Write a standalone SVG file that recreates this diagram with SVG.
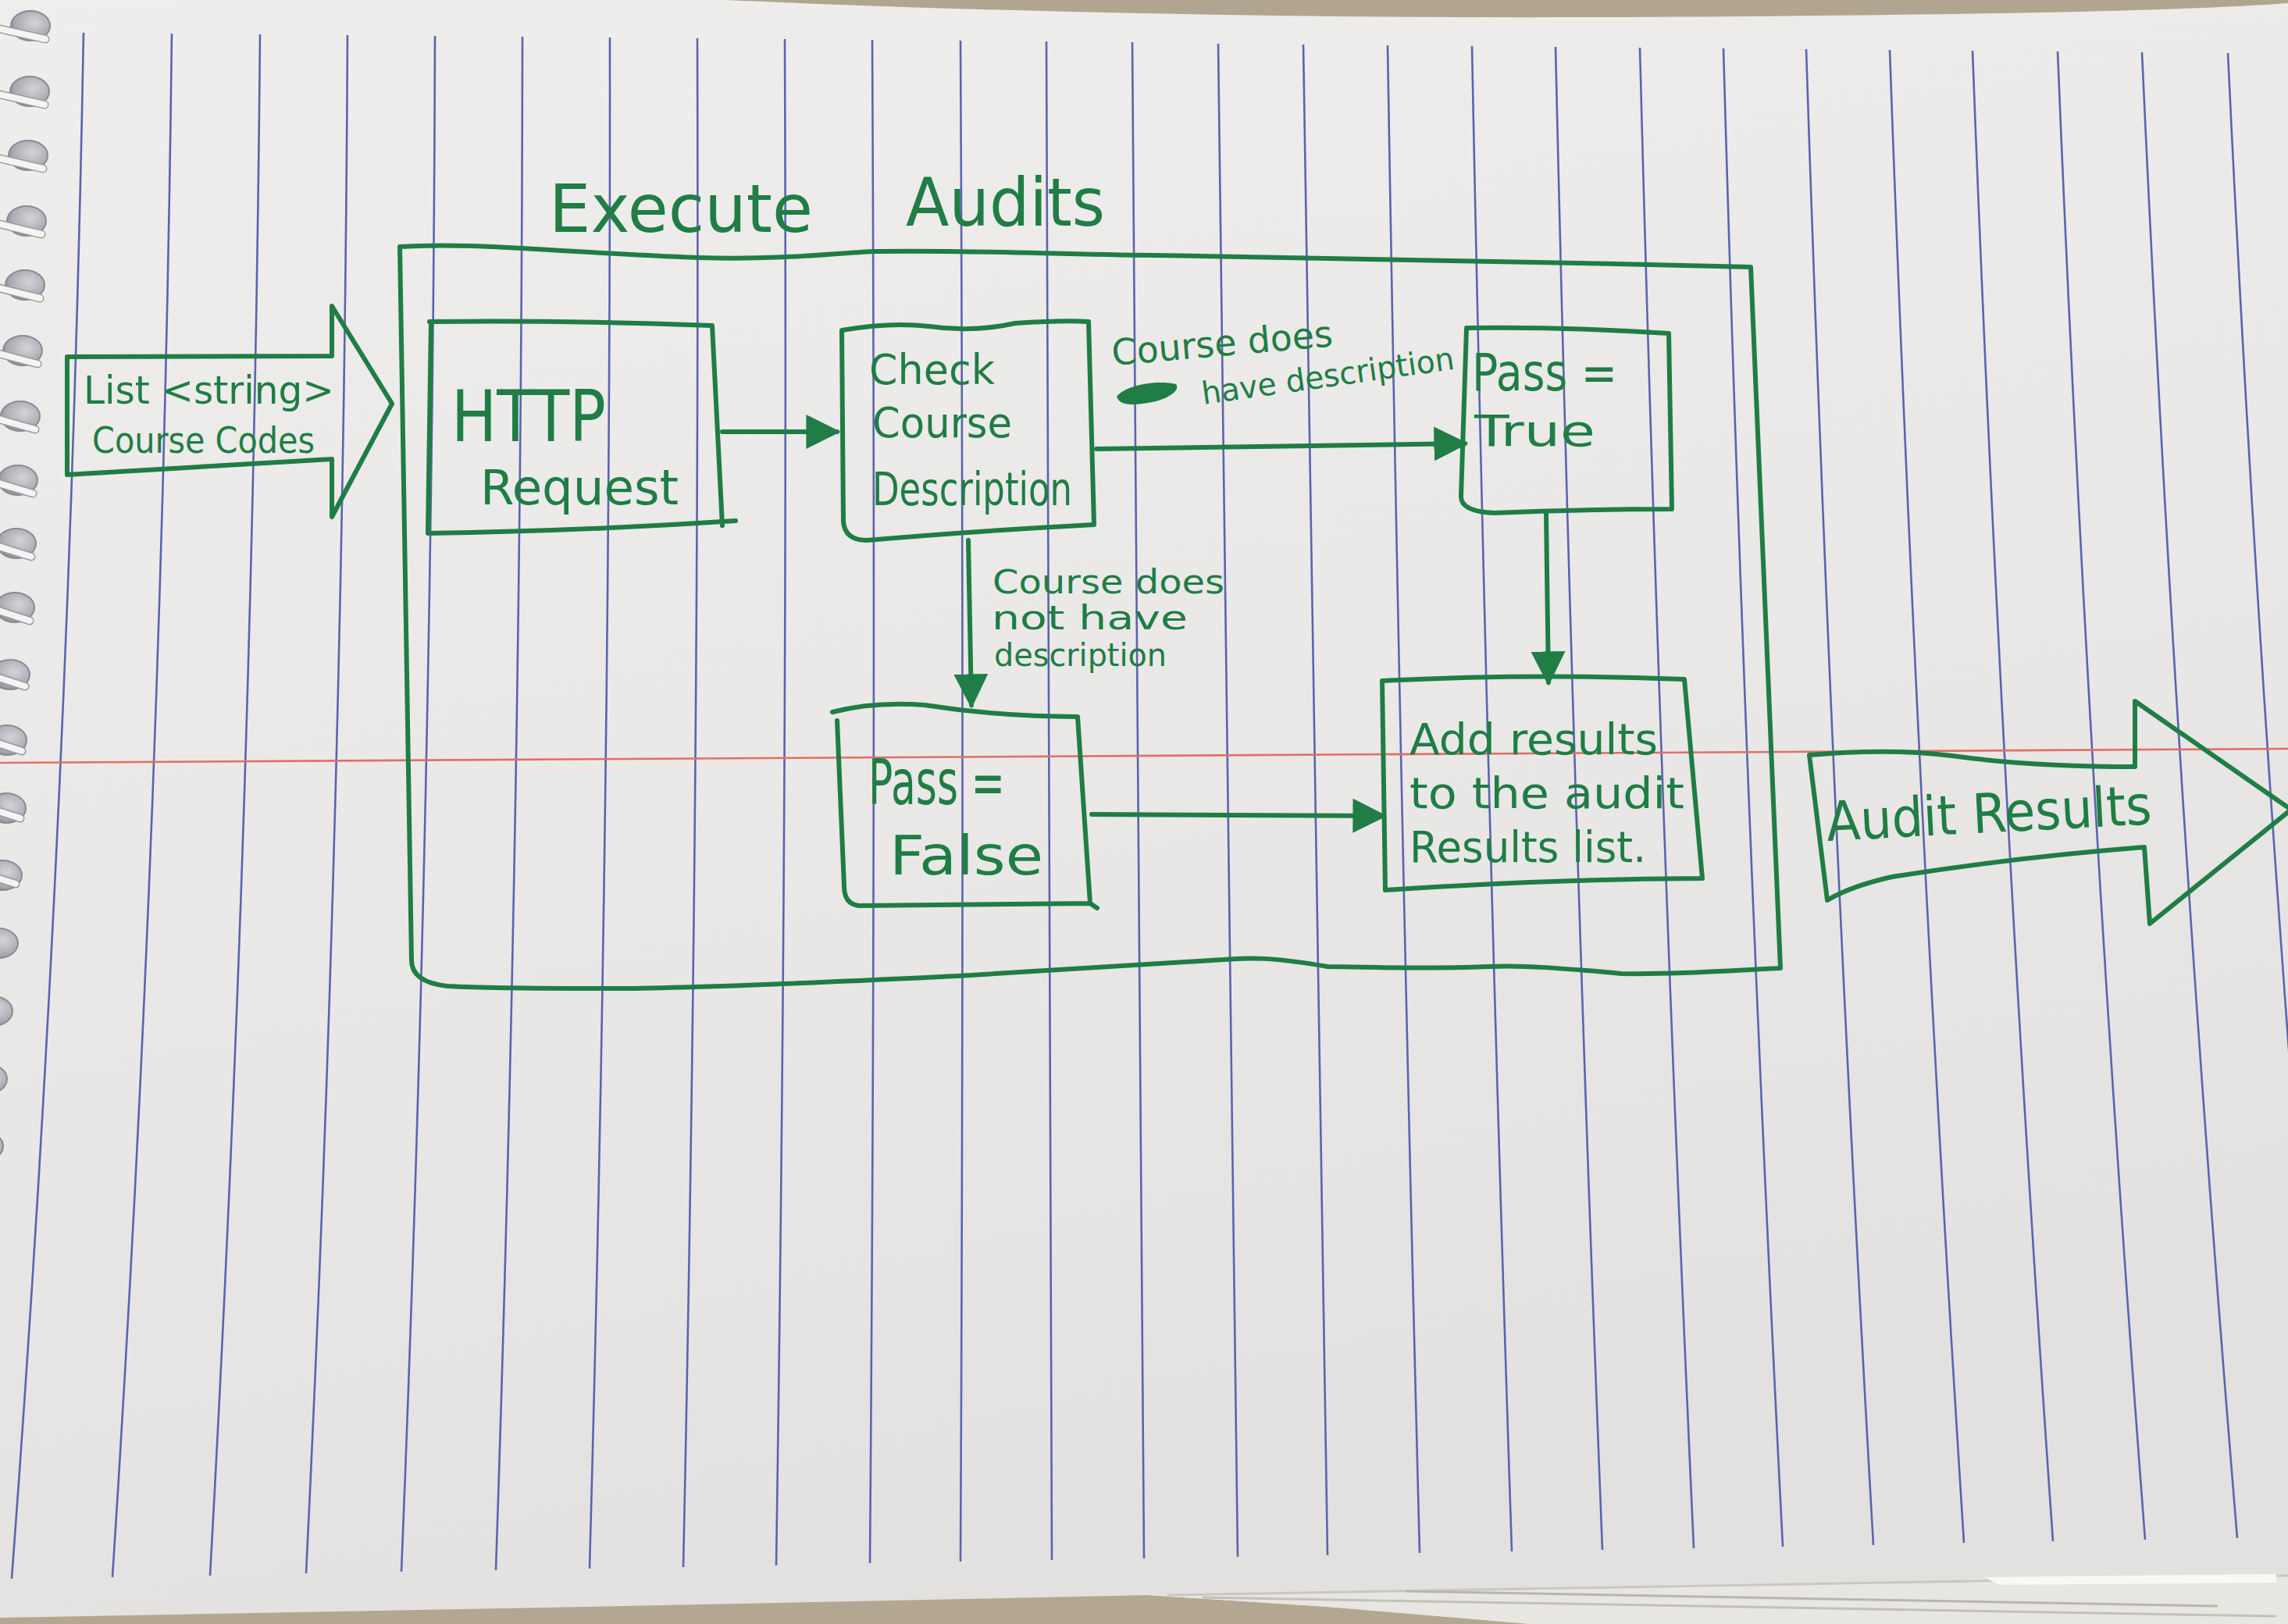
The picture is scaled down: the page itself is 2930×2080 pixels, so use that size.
<svg xmlns="http://www.w3.org/2000/svg" width="2930" height="2080" viewBox="0 0 2930 2080">
<defs>
<linearGradient id="paper" x1="0" y1="0" x2="0.3" y2="1">
<stop offset="0" stop-color="#efeeec"/>
<stop offset="0.6" stop-color="#e9e8e6"/>
<stop offset="1" stop-color="#e2e1df"/>
</linearGradient>
<radialGradient id="hole" cx="0.6" cy="0.4" r="0.7">
<stop offset="0" stop-color="#d4d4d8"/>
<stop offset="0.7" stop-color="#a9a9b0"/>
<stop offset="1" stop-color="#7d7d88"/>
</radialGradient>
<marker id="head" viewBox="0 0 10 10" refX="9" refY="5" markerWidth="44" markerHeight="52" markerUnits="userSpaceOnUse" orient="auto">
<path d="M0,0 L10,5 L0,10 Z" fill="#1f7d45"/>
</marker>
<style>
.rule{fill:none;stroke:#5b64ad;stroke-width:2.6}
.red{fill:none;stroke:#df6f6a;stroke-width:2.6}
.ink{fill:none;stroke:#1f7d45;stroke-width:6;stroke-linecap:round;stroke-linejoin:round}
.blob{fill:#1f7d45}
.hw{fill:#1f7d45;font-family:"DejaVu Sans","Liberation Sans",sans-serif}
.ring{fill:url(#hole);stroke:#8a8a93;stroke-width:2}
.wire{fill:none;stroke:#f4f4f2;stroke-width:8;stroke-linecap:round}
.wireedge{fill:none;stroke:#9a9aa2;stroke-width:11;stroke-linecap:round}
</style>
</defs>

<g id="background">
<rect x="0" y="0" width="2930" height="2080" fill="url(#paper)"/>
<path d="M930,0 C1200,12 1600,24 2050,22 C2500,20 2800,14 2930,4 L2930,0 Z" fill="#b2a58f"/>
<path d="M0,2072 L750,2058 L1470,2043 L1700,2058 L1960,2080 L0,2080 Z" fill="#b3a791"/>
<path d="M1470,2043 L2930,2016 L2930,2080 L1960,2080 L1700,2058 Z" fill="#e7e6e1"/>
<path d="M1495,2043 L2930,2018" fill="none" stroke="#c9c7c0" stroke-width="3"/>
<path d="M1800,2038 L2840,2057" fill="none" stroke="#b9b6ae" stroke-width="3"/>
<path d="M1540,2046 L2915,2070" fill="none" stroke="#c3c0b8" stroke-width="3"/>
<path d="M2541,2020 L2915,2016 L2915,2027 L2560,2030 Z" fill="#f8f8f5"/>
</g>

<g id="ruling">
<path class="rule" d="M107,42 Q89,1032 15,2022"/>
<path class="rule" d="M220,43 Q208,1031 144,2020"/>
<path class="rule" d="M333,44 Q324,1031 269,2018"/>
<path class="rule" d="M445,45 Q440,1030 392,2015"/>
<path class="rule" d="M557,46 Q554,1029 514,2013"/>
<path class="rule" d="M669,47 Q668,1029 635,2011"/>
<path class="rule" d="M781,48 Q782,1028 755,2009"/>
<path class="rule" d="M893,49 Q896,1028 875,2007"/>
<path class="rule" d="M1005,50 Q1009,1027 994,2005"/>
<path class="rule" d="M1117,51 Q1122,1026 1114,2002"/>
<path class="rule" d="M1230,52 Q1235,1026 1230,2000"/>
<path class="rule" d="M1340,53 Q1346,1025 1347,1998"/>
<path class="rule" d="M1450,54 Q1457,1025 1465,1996"/>
<path class="rule" d="M1560,56 Q1571,1025 1585,1994"/>
<path class="rule" d="M1669,57 Q1681,1024 1700,1992"/>
<path class="rule" d="M1777,58 Q1793,1023 1818,1989"/>
<path class="rule" d="M1885,59 Q1904,1023 1936,1987"/>
<path class="rule" d="M1992,60 Q2014,1022 2052,1985"/>
<path class="rule" d="M2100,61 Q2125,1022 2169,1983"/>
<path class="rule" d="M2207,62 Q2234,1021 2283,1981"/>
<path class="rule" d="M2313,63 Q2344,1021 2399,1979"/>
<path class="rule" d="M2420,64 Q2454,1020 2515,1976"/>
<path class="rule" d="M2526,65 Q2562,1019 2629,1974"/>
<path class="rule" d="M2635,66 Q2674,1019 2747,1972"/>
<path class="rule" d="M2743,67 Q2786,1018 2865,1970"/>
<path class="rule" d="M2853,68 Q2898,1018 2982,1968"/>
<path class="red" d="M0,977 L2930,959"/>
</g>

<g id="spiral">
<ellipse class="ring" cx="39" cy="33" rx="25" ry="19"/><path class="wireedge" d="M-5,36 L58,50"/><path class="wire" d="M-5,36 L58,50"/>
<ellipse class="ring" cx="38" cy="117" rx="25" ry="19"/><path class="wireedge" d="M-5,120 L57,134"/><path class="wire" d="M-5,120 L57,134"/>
<ellipse class="ring" cx="36" cy="199" rx="25" ry="19"/><path class="wireedge" d="M-5,202 L55,216"/><path class="wire" d="M-5,202 L55,216"/>
<ellipse class="ring" cx="34" cy="283" rx="25" ry="19"/><path class="wireedge" d="M-5,286 L53,300"/><path class="wire" d="M-5,286 L53,300"/>
<ellipse class="ring" cx="32" cy="365" rx="25" ry="19"/><path class="wireedge" d="M-5,368 L51,382"/><path class="wire" d="M-5,368 L51,382"/>
<ellipse class="ring" cx="29" cy="449" rx="25" ry="19"/><path class="wireedge" d="M-5,452 L48,466"/><path class="wire" d="M-5,452 L48,466"/>
<ellipse class="ring" cx="26" cy="533" rx="25" ry="19"/><path class="wireedge" d="M-5,536 L45,550"/><path class="wire" d="M-5,536 L45,550"/>
<ellipse class="ring" cx="23" cy="615" rx="25" ry="19"/><path class="wireedge" d="M-5,618 L42,632"/><path class="wire" d="M-5,618 L42,632"/>
<ellipse class="ring" cx="21" cy="696" rx="25" ry="19"/><path class="wireedge" d="M-5,699 L40,713"/><path class="wire" d="M-5,699 L40,713"/>
<ellipse class="ring" cx="19" cy="778" rx="25" ry="19"/><path class="wireedge" d="M-5,781 L38,795"/><path class="wire" d="M-5,781 L38,795"/>
<ellipse class="ring" cx="13" cy="864" rx="25" ry="19"/><path class="wireedge" d="M-5,867 L32,879"/><path class="wire" d="M-5,867 L32,879"/>
<ellipse class="ring" cx="9" cy="948" rx="25" ry="19"/><path class="wireedge" d="M-5,951 L28,962"/><path class="wire" d="M-5,951 L28,962"/>
<ellipse class="ring" cx="8" cy="1035" rx="25" ry="19"/><path class="wireedge" d="M-5,1038 L26,1048"/><path class="wire" d="M-5,1038 L26,1048"/>
<ellipse class="ring" cx="3" cy="1121" rx="25" ry="19"/><path class="wireedge" d="M-5,1124 L20,1132"/><path class="wire" d="M-5,1124 L20,1132"/>
<ellipse class="ring" cx="-2" cy="1208" rx="25" ry="19"/>
<ellipse class="ring" cx="-9" cy="1295" rx="25" ry="19"/>
<ellipse class="ring" cx="-16" cy="1382" rx="25" ry="19"/>
<ellipse class="ring" cx="-21" cy="1468" rx="25" ry="19"/>
</g>

<g id="input-list">
<path class="ink" d="M86,457 L425,456 L425,392 L502,517 L425,662 L425,588 L86,608 Z"/>
<text class="hw" x="107" y="517" font-size="50" textLength="321" lengthAdjust="spacingAndGlyphs">List &lt;string&gt;</text>
<text class="hw" x="118" y="580" font-size="46" textLength="285" lengthAdjust="spacingAndGlyphs">Course Codes</text>
</g>

<g id="execute-audits">
<path class="ink" d="M512,316 C600,310 700,322 895,330 C1000,333 1060,325 1118,322 C1250,320 1350,326 1480,327 C1800,332 2000,336 2242,342 L2280,1240 C2200,1244 2140,1248 2076,1247 C2000,1240 1950,1236 1906,1238 C1800,1242 1750,1238 1700,1238 C1630,1226 1600,1226 1567,1229 C1400,1240 1300,1246 1227,1250 C1100,1256 900,1266 779,1266 C650,1266 590,1264 573,1263 Q527,1258 527,1230 L512,316"/>
<text class="hw" font-size="85"><tspan x="703" y="297" textLength="338" lengthAdjust="spacingAndGlyphs">Execute</tspan><tspan x="1160" y="289" textLength="255" lengthAdjust="spacingAndGlyphs">Audits</tspan></text>
</g>

<g id="http-request">
<path class="ink" d="M550,412 Q730,410 912,417 L925,673 M942,667 Q750,680 548,683 L552,412"/>
<text class="hw" x="578" y="565" font-size="90" textLength="198" lengthAdjust="spacingAndGlyphs">HTTP</text>
<text class="hw" x="615" y="646" font-size="62" textLength="254" lengthAdjust="spacingAndGlyphs">Request</text>
</g>

<g id="check-description">
<path class="ink" d="M1078,423 Q1140,412 1190,418 Q1246,426 1300,414 Q1360,410 1394,412 L1401,672 Q1250,680 1110,692 Q1082,692 1080,668 Z"/>
<text class="hw" x="1113" y="492" font-size="54" textLength="161" lengthAdjust="spacingAndGlyphs">Check</text>
<text class="hw" x="1117" y="560" font-size="54" textLength="179" lengthAdjust="spacingAndGlyphs">Course</text>
<text class="hw" x="1117" y="647" font-size="58" textLength="256" lengthAdjust="spacingAndGlyphs">Description</text>
</g>

<g id="pass-true">
<path class="ink" d="M1878,420 Q2000,418 2137,427 L2141,652 Q2030,652 1913,657 Q1871,655 1871,636 Z"/>
<text class="hw" x="1885" y="500" font-size="66" textLength="186" lengthAdjust="spacingAndGlyphs">Pass =</text>
<text class="hw" x="1888" y="571" font-size="56" textLength="155" lengthAdjust="spacingAndGlyphs">True</text>
</g>

<g id="pass-false">
<path class="ink" d="M1066,912 Q1120,898 1184,903 Q1280,918 1380,918 L1396,1157 L1405,1163 M1396,1157 L1100,1160 Q1081,1158 1081,1135 L1072,923"/>
<text class="hw" x="1112" y="1030" font-size="80" textLength="175" lengthAdjust="spacingAndGlyphs">Pass =</text>
<text class="hw" x="1139" y="1120" font-size="70" textLength="197" lengthAdjust="spacingAndGlyphs">False</text>
</g>

<g id="add-results">
<path class="ink" d="M1770,872 Q1960,862 2157,870 L2180,1125 Q1980,1126 1774,1140 Z"/>
<text class="hw" x="1805" y="966" font-size="56" textLength="318" lengthAdjust="spacingAndGlyphs">Add results</text>
<text class="hw" x="1805" y="1035" font-size="56" textLength="352" lengthAdjust="spacingAndGlyphs">to the audit</text>
<text class="hw" x="1805" y="1104" font-size="56" textLength="303" lengthAdjust="spacingAndGlyphs">Results list.</text>
</g>

<g id="output-results">
<path class="ink" d="M2317,967 Q2420,958 2500,968 Q2600,982 2734,982 L2734,898 L2934,1037 L2753,1183 L2746,1085 Q2580,1098 2423,1123 Q2370,1135 2340,1153 Z"/>
<text class="hw" x="2340" y="1077" font-size="70" textLength="417" lengthAdjust="spacingAndGlyphs" transform="rotate(-3 2340 1077)">Audit Results</text>
</g>

<g id="connectors">
<path class="ink" d="M925,553 L1072,553" marker-end="url(#head)"/>
<path class="ink" d="M1404,575 L1876,568" marker-end="url(#head)"/>
<path class="ink" d="M1240,692 L1244,903" marker-end="url(#head)"/>
<path class="ink" d="M1980,658 L1983,874" marker-end="url(#head)"/>
<path class="ink" d="M1398,1043 L1772,1045" marker-end="url(#head)"/>
<g id="label-has-description">
<text class="hw" x="1425" y="468" font-size="46" textLength="284" lengthAdjust="spacingAndGlyphs" transform="rotate(-5 1425 468)">Course does</text>
<path class="blob" d="M1430,508 C1440,494 1480,486 1506,492 C1512,500 1496,512 1470,516 C1450,519 1434,520 1430,508 Z"/>
<text class="hw" x="1541" y="518" font-size="40" textLength="326" lengthAdjust="spacingAndGlyphs" transform="rotate(-8 1541 518)">have description</text>
</g>
<g id="label-no-description">
<text class="hw" x="1271" y="760" font-size="42" textLength="297" lengthAdjust="spacingAndGlyphs">Course does</text>
<text class="hw" x="1270" y="806" font-size="42" textLength="251" lengthAdjust="spacingAndGlyphs">not have</text>
<text class="hw" x="1273" y="853" font-size="40" textLength="221" lengthAdjust="spacingAndGlyphs">description</text>
</g>
</g>
</svg>
